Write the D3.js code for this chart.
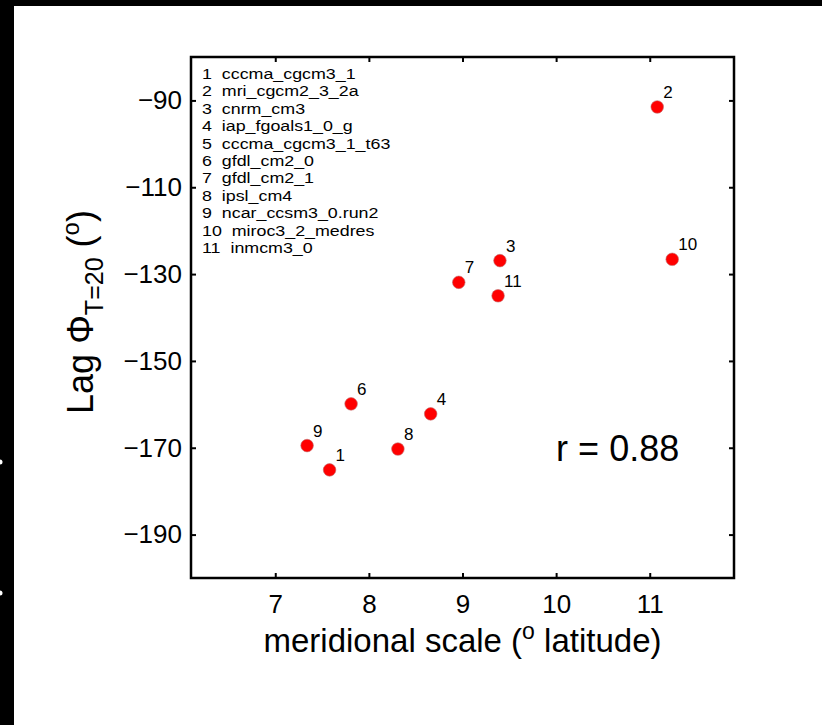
<!DOCTYPE html>
<html><head><meta charset="utf-8">
<script src="https://cdn.jsdelivr.net/npm/d3@7"></script>
<style>
body{margin:0;background:#fff}
svg{display:block}
text{font-family:"Liberation Sans",Arial,Helvetica,sans-serif;fill:#000}
</style>
</head><body>
<svg id="chart" width="822" height="725"></svg>
<script>
// ---- data ----
const modelIds = [1,2,3,4,5,6,7,8,9,10,11];
const modelNames = ["cccma_cgcm3_1","mri_cgcm2_3_2a","cnrm_cm3","iap_fgoals1_0_g","cccma_cgcm3_1_t63","gfdl_cm2_0","gfdl_cm2_1","ipsl_cm4","ncar_ccsm3_0.run2","miroc3_2_medres","inmcm3_0"];
const pointIds = [1,2,3,4,6,7,8,9,10,11];
const meridionalScale = [7.58,11.08,9.40,8.66,7.81,8.96,8.31,7.34,11.24,9.38];
const lagPhi = [-175.1,-91.5,-126.9,-162.2,-159.9,-131.9,-170.3,-169.5,-126.6,-135.0];
const xTicks = [7,8,9,10,11];
const yTicks = [-190,-170,-150,-130,-110,-90];
const xDomain = [6.1, 11.9];
const yDomain = [-200, -80];
const corrText = "r = 0.88";
const corrPos = [10.0, -173];

// ---- layout ----
const W = 822, H = 725;
const box = {left:191, top:57, right:734, bottom:578};
const svg = d3.select("#chart");
svg.append("rect").attr("width",W).attr("height",H).attr("fill","#fff");
// black photo frame
svg.append("rect").attr("x",0).attr("y",0).attr("width",W).attr("height",6).attr("fill","#000");
svg.append("rect").attr("x",0).attr("y",0).attr("width",14).attr("height",H).attr("fill","#000");
svg.append("circle").attr("cx",0).attr("cy",462).attr("r",2.5).attr("fill","#fff");
svg.append("circle").attr("cx",0).attr("cy",593).attr("r",2.5).attr("fill","#fff");

const x = d3.scaleLinear().domain(xDomain).range([box.left, box.right]);
const y = d3.scaleLinear().domain(yDomain).range([box.bottom, box.top]);

const tickLen = 5;
function styleAxis(g){
  g.select(".domain").remove();
  g.selectAll(".tick line").attr("stroke","#000").attr("stroke-width",2);
  g.selectAll(".tick text").attr("font-size",26).attr("font-family",'"Liberation Sans",Arial,sans-serif').attr("fill","#000");
}
svg.append("g").attr("transform",`translate(0,${box.bottom})`)
  .call(d3.axisBottom(x).tickValues(xTicks).tickSize(-tickLen).tickPadding(17).tickFormat(d3.format("d")))
  .call(styleAxis);
svg.append("g").attr("transform",`translate(0,${box.top})`)
  .call(d3.axisTop(x).tickValues(xTicks).tickSize(-tickLen).tickFormat(""))
  .call(styleAxis);
svg.append("g").attr("transform",`translate(${box.left},0)`)
  .call(d3.axisLeft(y).tickValues(yTicks).tickSize(-tickLen).tickPadding(9).tickFormat(d3.format("d")))
  .call(styleAxis);
svg.append("g").attr("transform",`translate(${box.right},0)`)
  .call(d3.axisRight(y).tickValues(yTicks).tickSize(-tickLen).tickFormat(""))
  .call(styleAxis);

svg.append("rect").attr("x",box.left).attr("y",box.top)
  .attr("width",box.right-box.left).attr("height",box.bottom-box.top)
  .attr("fill","none").attr("stroke","#000").attr("stroke-width",2.5);

// legend text block (slightly wide glyphs, tight line spacing as in the reference)
const leg = svg.append("g").attr("transform",`translate(${box.left+11},0) scale(1.19,1)`);
modelIds.forEach((id,i)=>{
  leg.append("text").attr("x",0).attr("y",box.top+22+i*17.4)
    .attr("font-size",15).attr("xml:space","preserve")
    .text(id+"  "+modelNames[i]);
});

// points
const pts = pointIds.map((id,i)=>({id, x:meridionalScale[i], y:lagPhi[i]}));
svg.append("g").selectAll("circle").data(pts).join("circle")
  .attr("cx",d=>x(d.x)).attr("cy",d=>y(d.y)).attr("r",6.3)
  .attr("fill","#ff0000").attr("stroke","#c07070").attr("stroke-width",0.6);
svg.append("g").selectAll("text").data(pts).join("text")
  .attr("x",d=>x(d.x)+6).attr("y",d=>y(d.y)-9)
  .attr("font-size",17).text(d=>d.id);

svg.append("text").attr("x",x(corrPos[0])).attr("y",y(corrPos[1]))
  .attr("font-size",36).text(corrText);

// x label
const xl = svg.append("text").attr("x",(box.left+box.right)/2).attr("y",652)
  .attr("text-anchor","middle").attr("font-size",33);
xl.append("tspan").text("meridional scale (");
xl.append("tspan").attr("font-size",23).attr("dy",-13).text("o");
xl.append("tspan").attr("dy",13).text(" latitude)");

// y label
const yl = svg.append("text").attr("transform",`translate(93,312) rotate(-90)`)
  .attr("text-anchor","middle").attr("font-size",36);
yl.append("tspan").text("Lag \u03A6");
yl.append("tspan").attr("font-size",25).attr("dy",10).text("T=20");
yl.append("tspan").attr("dy",-10).text(" (");
yl.append("tspan").attr("font-size",24).attr("dy",-14).text("o");
yl.append("tspan").attr("dy",14).text(")");
</script>
</body></html>
